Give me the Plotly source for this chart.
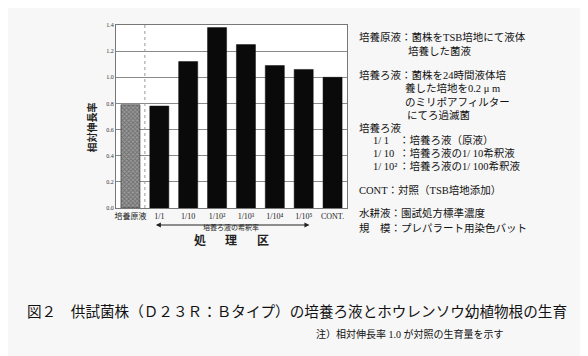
import plotly.graph_objects as go

categories = ["培養原液", "1/1", "1/10", "1/10²", "1/10³", "1/10⁴", "1/10⁵", "CONT."]
values = [0.79, 0.78, 1.12, 1.38, 1.25, 1.09, 1.06, 1.00]
y_ticks = [0.0, 0.2, 0.4, 0.6, 0.8, 1.0, 1.2, 1.4]
y_ticklabels = ["0.0", "0.2", "0.4", "0.6", "0.8", "1.0", "1.2", "1.4"]

# page body has an 8px default margin; compensate
OFF = 8
W, H = 588 - OFF, 356 - OFF
PLOT_L, PLOT_R, PLOT_T, PLOT_B = 116, 347, 25, 208  # in page pixels
L = PLOT_L - OFF
T = PLOT_T - OFF
R = W - (PLOT_R - OFF)
B = H - (PLOT_B - OFF)
PW, PH = PLOT_R - PLOT_L, PLOT_B - PLOT_T


def px(x):
    return (x - PLOT_L) / PW


def py(y):
    return (PLOT_B - y) / PH


SERIF = "Liberation Serif, Noto Sans CJK JP"
CJK = "Noto Sans CJK JP"

shapes_pat = ["x"] + [""] * (len(values) - 1)

fig = go.Figure()
fig.add_trace(go.Bar(
    x=list(range(len(categories))), y=values,
    marker=dict(color=["#9a9a9a"] + ["#0a0a0a"] * (len(values) - 1),
                line=dict(color="#111111", width=0.5),
                pattern=dict(shape=shapes_pat, size=3, solidity=0.5,
                             fgcolor="#1a1a1a", bgcolor="#b0b0b0")),
    width=0.66, showlegend=False,
))

fig.update_layout(
    width=W, height=H,
    margin=dict(l=L, r=R, t=T, b=B, pad=0),
    paper_bgcolor="#f7f7f7", plot_bgcolor="#ffffff",
    xaxis=dict(range=[-0.5, len(categories) - 0.5], tickmode="array",
               tickvals=list(range(len(categories))), ticktext=categories,
               tickfont=dict(family=SERIF, size=8, color="#222"),
               showgrid=False, showline=True, linecolor="#777", linewidth=1,
               mirror=True, ticks="", ticklen=0),
    yaxis=dict(range=[0, 1.4], tickmode="array", tickvals=y_ticks,
               ticktext=y_ticklabels, tickfont=dict(family=SERIF, size=6, color="#333"),
               showgrid=True, gridcolor="#8a8a8a", gridwidth=1,
               showline=True, linecolor="#777", linewidth=1, mirror=True,
               ticks="", zeroline=False),
    bargap=0.34,
)

# dotted separator between original culture and filtrate series
fig.add_shape(type="line", xref="x", yref="paper", x0=0.5, x1=0.5, y0=0, y1=1,
              line=dict(color="#999999", width=1, dash="dot"))

ann = []
# y-axis title
ann.append(dict(text="<b>相対伸長率</b>", x=px(82), y=py(128), xref="paper", yref="paper",
                showarrow=False, textangle=-90, font=dict(family=CJK, size=10, color="#222")))
# arrow for dilution rate
ann.append(dict(text="", x=6.2, y=py(225), xref="x", yref="paper",
                ax=0.83, ay=0, axref="x", ayref="pixel", showarrow=True,
                arrowhead=2, startarrowhead=2, arrowside="end+start",
                arrowsize=1, startarrowsize=1, arrowwidth=1, arrowcolor="#222"))
ann.append(dict(text="培養ろ液の希釈率", x=px(231), y=py(233), xref="paper", yref="paper",
                showarrow=False, borderpad=0, font=dict(family=CJK, size=7, color="#222")))
for ch, xx in zip(["処", "理", "区"], [200, 231, 263]):
    ann.append(dict(text="<b>" + ch + "</b>", x=px(xx), y=py(249), xref="paper", yref="paper",
                    showarrow=False, borderpad=0, font=dict(family=CJK, size=12, color="#222")))

# right side notes
notes = [
    (357, 37, "培養原液：菌株をTSB培地にて液体"),
    (406, 51, "培養した菌液"),
    (357, 75, "培養ろ液：菌株を24時間液体培"),
    (403, 88, "養した培地を0.2 μ m"),
    (403, 102, "のミリポアフィルター"),
    (405, 115, "にてろ過滅菌"),
    (357, 128, "培養ろ液"),
    (371, 140, "1/ 1"),
    (397, 140, "：培養ろ液（原液）"),
    (371, 153, "1/ 10"),
    (397, 153, "：培養ろ液の1/ 10希釈液"),
    (371, 166, "1/ 10²"),
    (397, 166, "：培養ろ液の1/ 100希釈液"),
    (357, 190, "CONT：対照（TSB培地添加）"),
    (357, 213, "水耕液：園試処方標準濃度"),
    (357, 228, "規　模：プレパラート用染色バット"),
]
for xx, yy, t in notes:
    ann.append(dict(text=t, x=px(xx), y=py(yy), xref="paper", yref="paper",
                    xanchor="left", yanchor="middle", showarrow=False,
                    font=dict(family=SERIF, size=10.5, color="#111")))

# caption
ann.append(dict(text="図２　供試菌株（Ｄ２３Ｒ：Ｂタイプ）の培養ろ液とホウレンソウ幼植物根の生育",
                x=px(25), y=py(312), xref="paper", yref="paper", xanchor="left",
                yanchor="middle", showarrow=False,
                font=dict(family=SERIF, size=14.6, color="#111")))
ann.append(dict(text="注）相対伸長率 1.0 が対照の生育量を示す",
                x=px(506), y=py(334), xref="paper", yref="paper", xanchor="right",
                yanchor="middle", showarrow=False,
                font=dict(family=SERIF, size=10, color="#111")))

fig.update_layout(annotations=ann)
fig.write_html("out.html")
